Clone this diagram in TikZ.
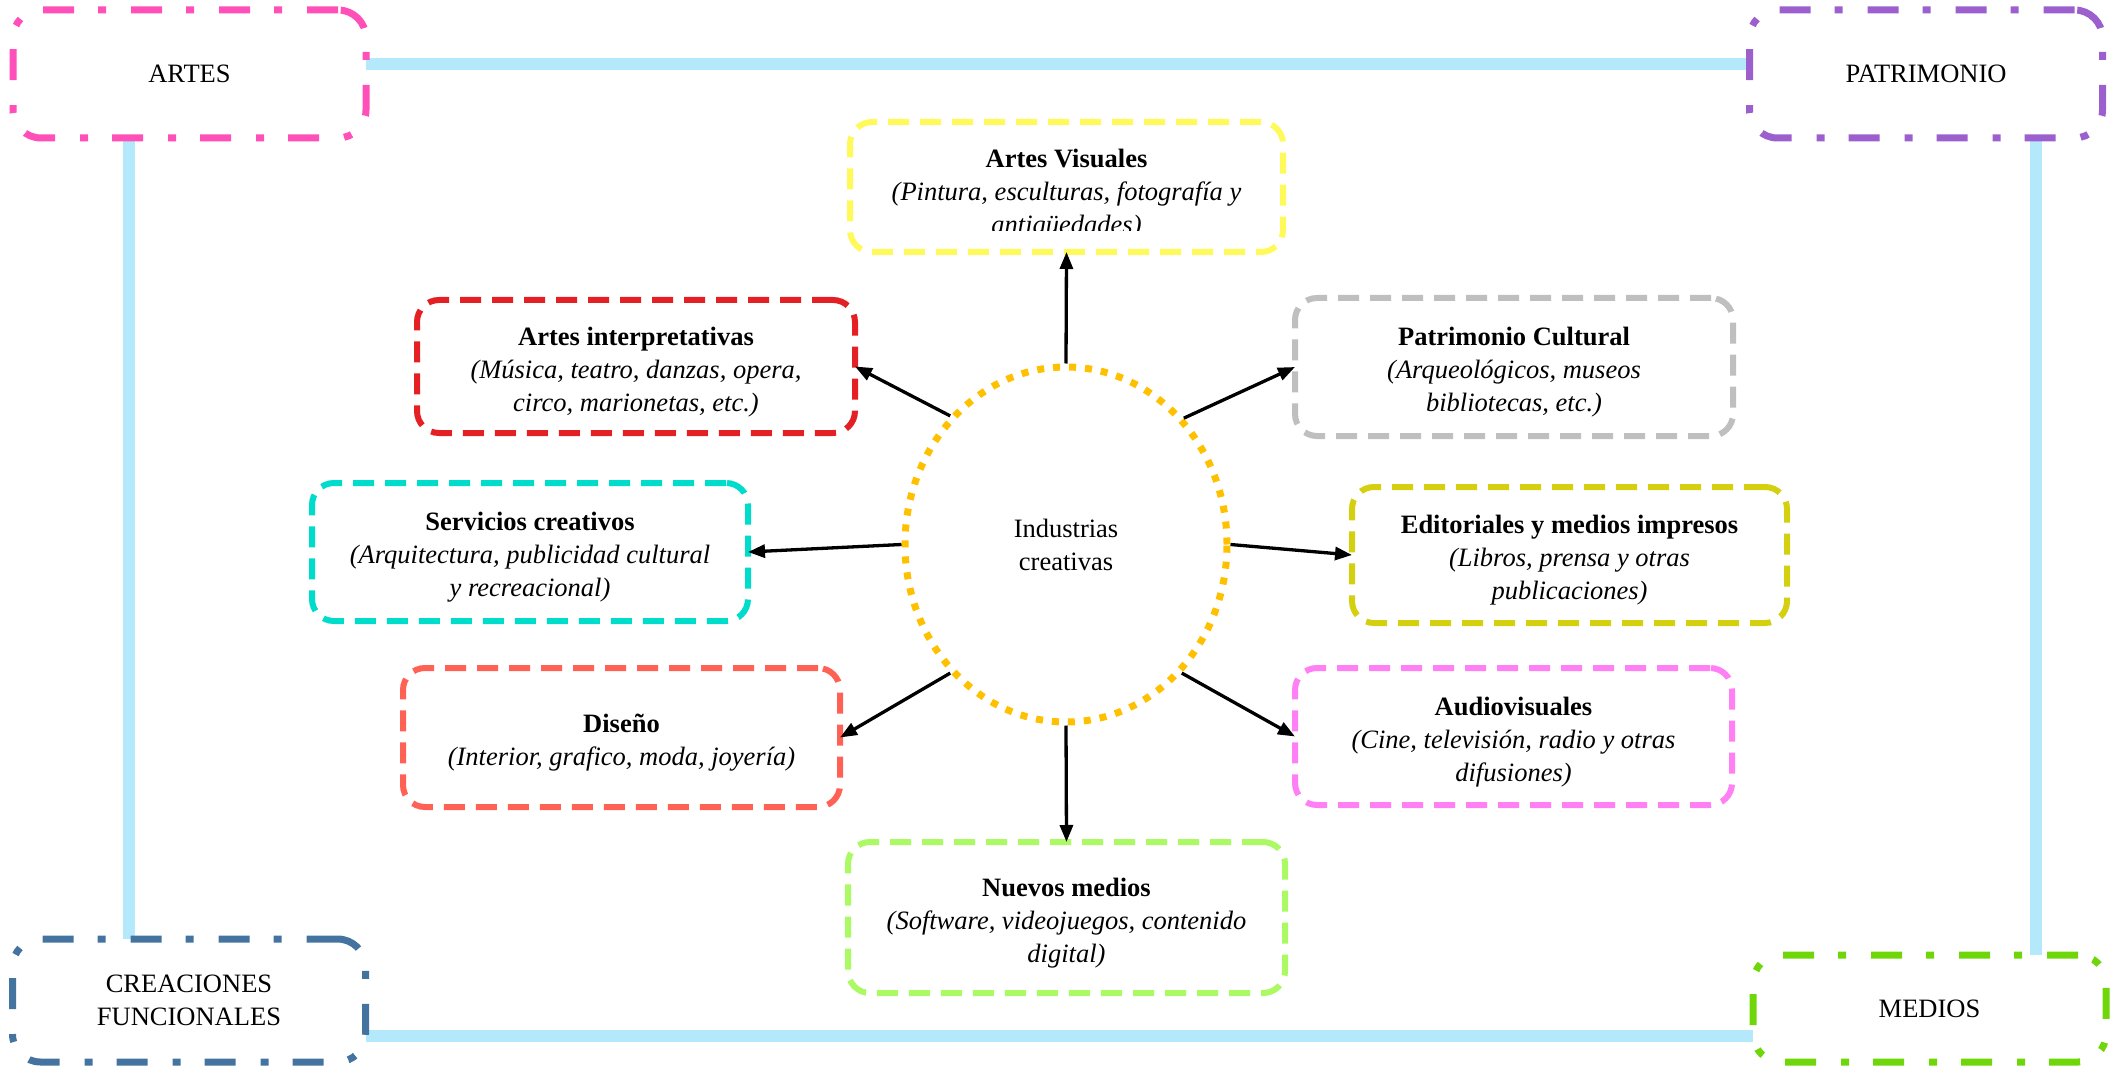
\documentclass[tikz,border=0pt]{standalone}
\usepackage{fontspec}
\setmainfont{Liberation Serif}
\usetikzlibrary{arrows.meta,shapes.geometric}
\pgfdeclarelayer{background}
\pgfsetlayers{background,main}
\definecolor{cArtes}{HTML}{FF4FB8}
\definecolor{cPatr}{HTML}{9B5FCE}
\definecolor{cCrea}{HTML}{44739F}
\definecolor{cMed}{HTML}{6FD60A}
\definecolor{cVis}{HTML}{FFFA59}
\definecolor{cInt}{HTML}{E42025}
\definecolor{cPC}{HTML}{BFBFBF}
\definecolor{cServ}{HTML}{00DCCB}
\definecolor{cEdit}{HTML}{D4CF0F}
\definecolor{cDis}{HTML}{FF6155}
\definecolor{cAud}{HTML}{FF80F5}
\definecolor{cNue}{HTML}{ABF963}
\definecolor{cOr}{HTML}{FFC000}
\definecolor{cLine}{HTML}{B4E9FC}
\newcommand\firststrut{\rule{0pt}{29pt}}
\begin{document}
\begin{tikzpicture}[x=1pt,y=-1pt,
  every node/.style={font=\fontsize{26.5}{33}\selectfont},
  outerbox/.style={draw, rounded corners=28pt, line width=7pt,
    dash pattern=on 31pt off 25pt on 8pt off 24pt,
    minimum width=353pt, minimum height=128pt, align=center, inner sep=0pt, outer sep=0pt},
  innerbox/.style={draw, rounded corners=22pt, line width=6pt,
    dash pattern=on 21pt off 11pt,
    minimum width=436pt, minimum height=136pt, align=center, inner sep=0pt, outer sep=0pt},
  blueline/.style={line width=12pt, draw=cLine},
  arr/.style={line width=3.3pt, -{Triangle[length=17pt,width=13pt]}}]
\useasboundingbox (0,0) rectangle (2123,1067);

% outer boxes
\node[outerbox, draw=cArtes] (artes) at (189.5,74) {ARTES};
\node[outerbox, draw=cPatr] (patr) at (1926,74) {PATRIMONIO};
\node[outerbox, draw=cCrea, minimum height=123pt] (crea) at (189,1000.5) {CREACIONES\\FUNCIONALES};
\node[outerbox, draw=cMed, minimum height=107pt] (med) at (1929.5,1008.5) {MEDIOS};

% frame connectors
\coordinate (ltop) at (129,64);
\coordinate (rbot) at (2036,1036);
\begin{pgfonlayer}{background}
\draw[blueline] (artes.east |- ltop) -- (patr.west |- ltop);
\draw[blueline] (artes.south -| ltop) -- (crea.north -| ltop);
\draw[blueline] (patr.south -| rbot) -- (med.north -| rbot);
\draw[blueline] (crea.east |- rbot) -- (med.west |- rbot);
\end{pgfonlayer}

% centre
\node[ellipse, draw=cOr, line width=7pt, dash pattern=on 7pt off 9pt,
  minimum width=322pt, minimum height=355pt, align=center, inner sep=0pt] (c) at (1066,544.5)
  {Industrias\\creativas};

% inner boxes
\node[innerbox, draw=cVis, minimum width=433pt, minimum height=130pt] (vis) at (1066.5,187) {};
\begin{scope}
\clip (vis.north west) rectangle ([yshift=21pt]vis.south east);
\node[align=center] (vist) at (1066.5,194)
  {\textbf{Artes Visuales}\\\textit{(Pintura, esculturas, fotografía y}\\\textit{antigüedades)}};
\end{scope}

\node[innerbox, draw=cInt, minimum width=438pt, minimum height=133pt] (ai) at (636,366.5)
  {\firststrut\textbf{Artes interpretativas}\\\textit{(Música, teatro, danzas, opera,}\\\textit{circo, marionetas, etc.)}};
\node[innerbox, draw=cPC, minimum width=438pt, minimum height=138pt] (pc) at (1514,367)
  {\firststrut\textbf{Patrimonio Cultural}\\\textit{(Arqueológicos, museos}\\\textit{bibliotecas, etc.)}};
\node[innerbox, draw=cServ, minimum width=436pt, minimum height=138pt] (sc) at (530,552)
  {\firststrut\textbf{Servicios creativos}\\\textit{(Arquitectura, publicidad cultural}\\\textit{y recreacional)}};
\node[innerbox, draw=cEdit, minimum width=435pt, minimum height=136pt] (ed) at (1569.5,555)
  {\firststrut\textbf{Editoriales y medios impresos}\\\textit{(Libros, prensa y otras}\\\textit{publicaciones)}};
\node[innerbox, draw=cDis, minimum width=437pt, minimum height=139pt] (di) at (621.5,737.5)
  {\firststrut\textbf{Diseño}\\\textit{(Interior, grafico, moda, joyería)}};
\node[innerbox, draw=cAud, minimum width=437pt, minimum height=137pt] (au) at (1513.5,736.5)
  {\firststrut\textbf{Audiovisuales}\\\textit{(Cine, televisión, radio y otras}\\\textit{difusiones)}};
\node[innerbox, draw=cNue, minimum width=437pt, minimum height=151pt] (nm) at (1066.5,917.5)
  {\firststrut\textbf{Nuevos medios}\\\textit{(Software, videojuegos, contenido}\\\textit{digital)}};

% arrows
\draw[arr] (c.north) -- (vis.south);
\draw[arr] (c.132.5) -- (ai.east);
\draw[arr] (c.47.5) -- (pc.west);
\draw[arr] (c.west) -- (sc.east);
\draw[arr] (c.east) -- (ed.west);
\draw[arr] (c.228) -- (di.east);
\draw[arr] (c.312) -- (au.west);
\draw[arr] (c.south) -- (nm.north);
\end{tikzpicture}
\end{document}
